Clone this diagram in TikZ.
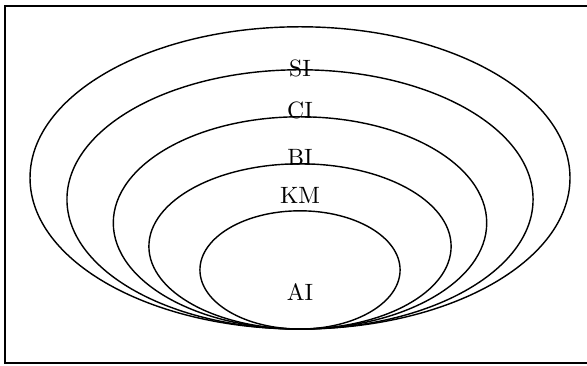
\documentclass[tikz,border=0pt]{standalone}
\begin{document}
\begin{tikzpicture}[
  ring/.style={draw,line width=0.6pt},
  lvl/.style={inner sep=1pt}
]
  \useasboundingbox (-4.467,-0.536) rectangle (4.273,4.899);
  % outer frame (right edge falls outside the page)
  \draw[line width=0.9pt] (-4.393,-0.506) rectangle (4.6,4.810);

  % nested ellipses, all touching at the bottom
  \foreach \rx/\ry in {4.02/2.25, 3.47/1.93, 2.78/1.58, 2.25/1.23, 1.49/0.88}
    \draw[ring] (0,\ry) ellipse [x radius=\rx, y radius=\ry];

  \node[lvl] (si) at (0,3.886) {SI};
  \node[lvl] (ci) at (0,3.261) {CI};
  \node[lvl] (bi) at (0,2.561) {BI};
  \node[lvl] (km) at (0,1.995) {KM};
  \node[lvl] (ai) at (0,0.551) {AI};
\end{tikzpicture}
\end{document}
